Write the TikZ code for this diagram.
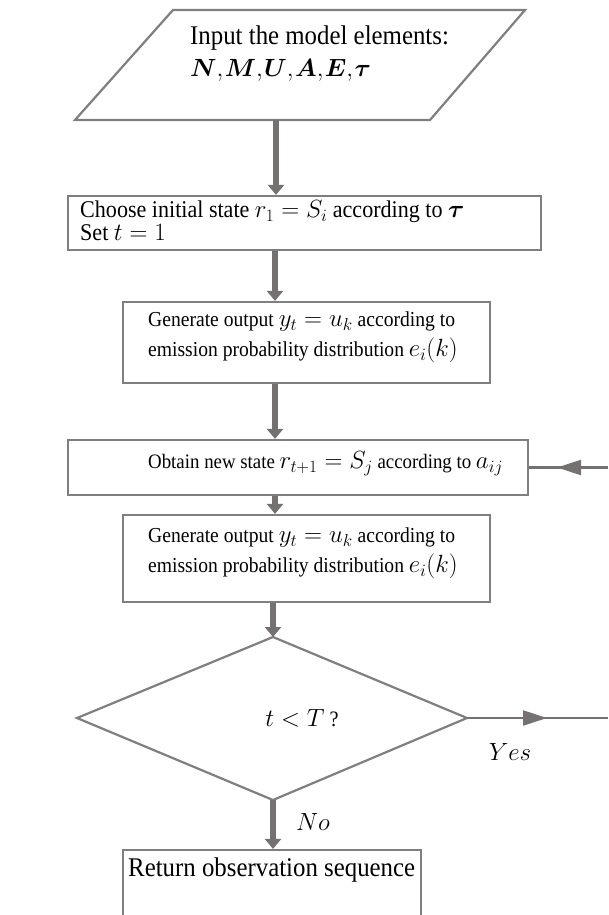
\documentclass[tikz,border=0pt]{standalone}
\usepackage{fontspec}
\setmainfont{Liberation Serif}[FakeStretch=0.92]
\usepackage{bm}
\DeclareMathSizes{20.5}{23}{17}{13}
\DeclareMathSizes{21.3}{23}{17}{13}
\DeclareMathSizes{22}{25}{18}{14}
\DeclareMathSizes{24}{24}{18}{14}
\DeclareMathSizes{27}{24}{18}{14}
\usetikzlibrary{arrows.meta}
\definecolor{boxgray}{HTML}{7F7F7F}
\definecolor{arrgray}{HTML}{767171}
\newcommand{\tc}{{,}\mkern1mu}
\begin{document}
\begin{tikzpicture}[x=1pt,y=-1pt,
  font=\fontsize{21.3}{30}\selectfont,
  box/.style={draw=boxgray, line width=2.2pt, inner sep=0pt, fill=white},
  txt/.style={anchor=west, align=left, inner sep=0pt},
  bigarrow/.style={draw=arrgray, line width=6pt, -{Triangle[width=16pt,length=10pt]}},
  thinline/.style={draw=arrgray, line width=2.2pt},
  thinarrow/.style={draw=arrgray, line width=2.2pt, -{Triangle[width=15pt,length=24pt]}}]
\useasboundingbox (0,0) rectangle (608,915);
\clip (0,0) rectangle (608,915);
% parallelogram
\coordinate (pTL) at (173,10);
\coordinate (pTR) at (525,10);
\coordinate (pBR) at (430,120);
\coordinate (pBL) at (75,120);
\draw[draw=boxgray, line width=2.2pt] (pTL) -- (pTR) -- (pBR) -- (pBL) -- cycle;
\node[txt, font=\fontsize{27}{32}\selectfont] (pt) at (190,54) {Input the model elements:\\ $\bm{N}\tc\bm{M}\tc\bm{U}\tc\bm{A}\tc\bm{E}\tc\bm{\tau}$};
\coordinate (pb) at (276,120);
% boxes
\node[box, minimum width=473pt, minimum height=54pt] (b1) at (304.5,223) {};
\node[txt, font=\fontsize{24}{23}\selectfont] (b1t) at (80,221) {Choose initial state $r_1 = S_i$ according to $\bm{\tau}$\\ Set $t = 1$};
\node[box, minimum width=367pt, minimum height=81pt] (b2) at (306.5,342.5) {};
\node[txt] (b2t) at (148,337) {Generate output $y_t = u_k$ according to\\ emission probability distribution $e_i(k)$};
\node[box, minimum width=460pt, minimum height=55pt] (b3) at (298,467.5) {};
\node[txt, font=\fontsize{20.5}{30}\selectfont] (b3t) at (148,464) {Obtain new state $r_{t+1} = S_j$ according to $a_{ij}$};
\node[box, minimum width=367pt, minimum height=87pt] (b4) at (306.5,558.5) {};
\node[txt] (b4t) at (148,553) {Generate output $y_t = u_k$ according to\\ emission probability distribution $e_i(k)$};
% diamond
\coordinate (dT) at (273,637);
\coordinate (dL) at (77,718);
\coordinate (dR) at (467,718);
\coordinate (dB) at (273,800);
\draw[draw=boxgray, line width=2.2pt] (dT) -- (dR) -- (dB) -- (dL) -- cycle;
\node[inner sep=0pt, font=\fontsize{22}{26}\selectfont] (dt) at (302,718) {$t < T$ ?};
% final box
\node[box, minimum width=298pt, minimum height=100pt] (b5) at (272,900) {};
\node[txt, font=\fontsize{27}{30}\selectfont] (b5t) at (128,870) {Return observation sequence};
% vertical arrows
\draw[bigarrow] (pb) -- (pb |- b1.north);
\coordinate (a2) at (275,0);
\draw[bigarrow] (a2 |- b1.south) -- (a2 |- b2.north);
\draw[bigarrow] (a2 |- b2.south) -- (a2 |- b3.north);
\draw[bigarrow] (a2 |- b3.south) -- (a2 |- b4.north);
\coordinate (a5) at (273,0);
\draw[bigarrow] (a5 |- b4.south) -- (dT);
\draw[bigarrow] (dB) -- (a5 |- b5.north);
% yes branch
\coordinate (yEnd) at (608,718);
\coordinate (yTip) at (547,718);
\draw[thinline] (dR) -- (yEnd);
\draw[thinarrow] (dR) -- (yTip);
\node[font=\fontsize{22}{26}\selectfont] (yes) at (510,752) {$Yes$};
\node[font=\fontsize{22}{26}\selectfont] (no) at (313,822) {$No$};
% feedback
\coordinate (fStart) at (608,0);
\coordinate (fTip) at (557,0);
\draw[thinline] (fStart |- b3.east) -- (b3.east);
\draw[thinarrow] (fStart |- b3.east) -- (fTip |- b3.east);
\end{tikzpicture}
\end{document}
